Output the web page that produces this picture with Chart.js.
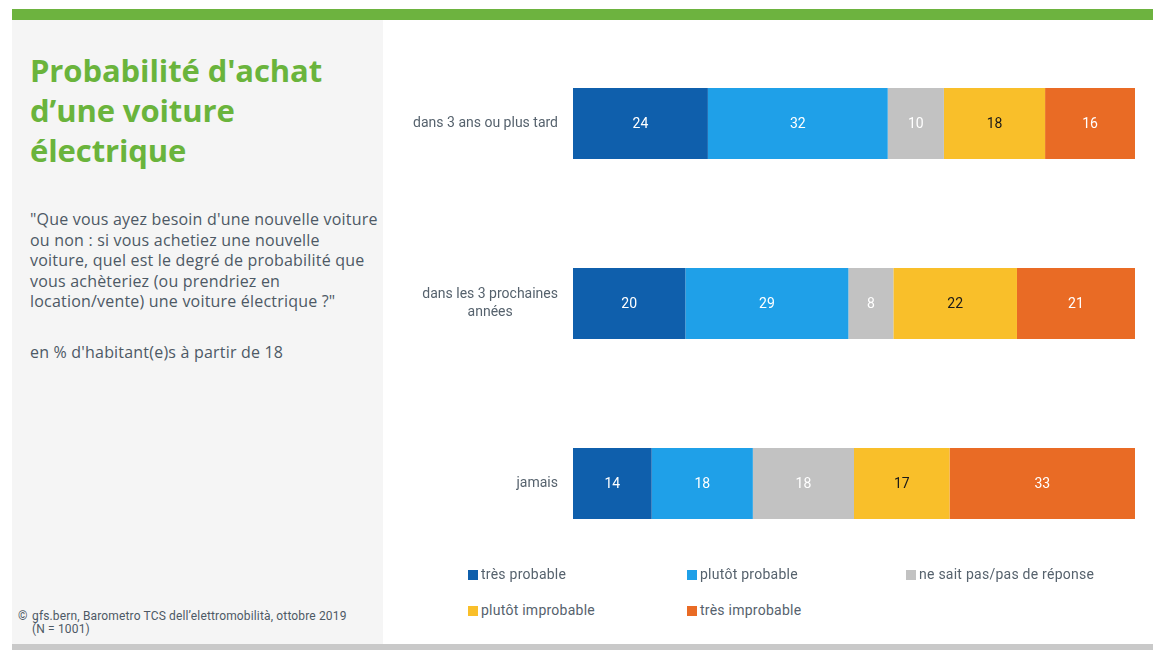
<!DOCTYPE html>
<html lang="fr">
<head>
<meta charset="utf-8">
<script src="https://cdn.jsdelivr.net/npm/chart.js@4"></script>
<style>
  html, body { margin: 0; padding: 0; background: #fff; }
  body { width: 1153px; height: 650px; position: relative; overflow: hidden; font-family: "Roboto", sans-serif; }
  .topbar { position: absolute; left: 12px; top: 9px; width: 1141px; height: 11px; background: #6db33f; }
  .panel { position: absolute; left: 12px; top: 20px; width: 371px; height: 624px; background: #f5f5f5; }
  .bottom { position: absolute; left: 12px; top: 644px; width: 1141px; height: 6px; background: #c9c9c9; }
  .title { position: absolute; left: 30px; top: 50px; color: #6ab43c; font: bold 31px/40px "Open Sans", sans-serif; letter-spacing: -0.1px; }
  .quote { position: absolute; left: 30px; top: 209px; color: #4d5965; font: 16px/20.5px "Open Sans", sans-serif; letter-spacing: 0.2px; }
  .unit { position: absolute; left: 30px; top: 342px; color: #4d5965; font: 16px/20px "Open Sans", sans-serif; letter-spacing: 0.2px; }
  .src { position: absolute; left: 18px; top: 610px; color: #4d5965; font: 12px/13px "Roboto", sans-serif; letter-spacing: 0.15px; }
  .src span { display: inline-block; width: 14px; }
  .chartbox { position: absolute; left: 383px; top: 20px; width: 770px; height: 560px; }
  .legend { position: absolute; left: 468px; top: 562px; }
  .legend div { position: absolute; white-space: nowrap; color: #56626d; font: 14px/24px "Roboto", sans-serif; letter-spacing: 0.25px; }
  .legend i { display: inline-block; width: 10px; height: 10px; margin-right: 3px; vertical-align: -1px; }
</style>
</head>
<body>
<div class="topbar"></div>
<div class="panel"></div>
<div class="bottom"></div>
<div class="title">Probabilité d'achat<br>d’une voiture<br>électrique</div>
<div class="quote">"Que vous ayez besoin d'une nouvelle voiture<br>ou non : si vous achetiez une nouvelle<br>voiture, quel est le degré de probabilité que<br>vous achèteriez (ou prendriez en<br>location/vente) une voiture électrique ?"</div>
<div class="unit">en % d'habitant(e)s à partir de 18</div>
<div class="src"><span>©</span>gfs.bern, Barometro TCS dell’elettromobilità, ottobre 2019<br><span></span>(N = 1001)</div>
<div class="chartbox"><canvas id="chart" width="770" height="560"></canvas></div>
<div class="legend" id="legend"></div>
<script>
// categories and series (in %)
const categories = [["dans 3 ans ou plus tard"], ["dans les 3 prochaines", "années"], ["jamais"]];
const seriesNames = ["très probable", "plutôt probable", "ne sait pas/pas de réponse", "plutôt improbable", "très improbable"];
const tresProbable   = [24, 20, 14];
const plutotProbable = [32, 29, 18];
const neSaitPas      = [10, 8, 18];
const plutotImprob   = [18, 22, 17];
const tresImprob     = [16, 21, 33];
const seriesColors = ["#0f5fac", "#1fa0e8", "#c2c2c2", "#f9bf2a", "#e96b25"];
const labelColors  = ["#ffffff", "#ffffff", "#ffffff", "#1a1a1a", "#ffffff"];

const seriesData = [tresProbable, plutotProbable, neSaitPas, plutotImprob, tresImprob];

// value labels centered in each segment
const valueLabels = {
  id: "valueLabels",
  afterDatasetsDraw(chart) {
    const ctx = chart.ctx;
    ctx.save();
    ctx.font = '14px "Roboto", sans-serif';
    ctx.textAlign = "center";
    ctx.textBaseline = "middle";
    chart.data.datasets.forEach((ds, i) => {
      chart.getDatasetMeta(i).data.forEach((bar, j) => {
        ctx.fillStyle = labelColors[i];
        ctx.fillText(ds.data[j], (bar.x + bar.base) / 2, bar.y + 1);
      });
    });
    ctx.restore();
  }
};

// category labels, right-aligned block, lines centered within it
const catLabels = {
  id: "catLabels",
  afterDraw(chart) {
    const ctx = chart.ctx, y = chart.scales.y;
    const right = chart.chartArea.left - 15;
    ctx.save();
    ctx.font = '14px "Roboto", sans-serif';
    ctx.fillStyle = "#56626d";
    ctx.textBaseline = "middle";
    ctx.textAlign = "center";
    categories.forEach((lines, i) => {
      const w = Math.max(...lines.map(l => ctx.measureText(l).width));
      const cy = y.getPixelForTick(i);
      const lh = 18;
      lines.forEach((l, k) => {
        ctx.fillText(l, right - w / 2, cy + (k - (lines.length - 1) / 2) * lh);
      });
    });
    ctx.restore();
  }
};

new Chart(document.getElementById("chart"), {
  type: "bar",
  data: {
    labels: categories,
    datasets: seriesData.map((d, i) => ({
      label: seriesNames[i], data: d,
      backgroundColor: seriesColors[i], borderWidth: 0,
      barPercentage: 0.395, categoryPercentage: 1,
    })),
  },
  options: {
    indexAxis: "y",
    responsive: false,
    animation: false,
    layout: { padding: { left: 190, right: 18, top: 13.5, bottom: 6.5 } },
    plugins: { legend: { display: false }, tooltip: { enabled: false } },
    scales: {
      x: { stacked: true, min: 0, max: 100, display: false },
      y: { stacked: true, display: false },
    },
  },
  plugins: [valueLabels, catLabels],
});

// legend grid
const legend = document.getElementById("legend");
const pos = [[0, 0], [219, 0], [438, 0], [0, 36], [219, 36]];
seriesNames.forEach((n, i) => {
  const d = document.createElement("div");
  d.style.left = pos[i][0] + "px";
  d.style.top = pos[i][1] + "px";
  d.innerHTML = `<i style="background:${seriesColors[i]}"></i>${n}`;
  legend.appendChild(d);
});
</script>
</body>
</html>
